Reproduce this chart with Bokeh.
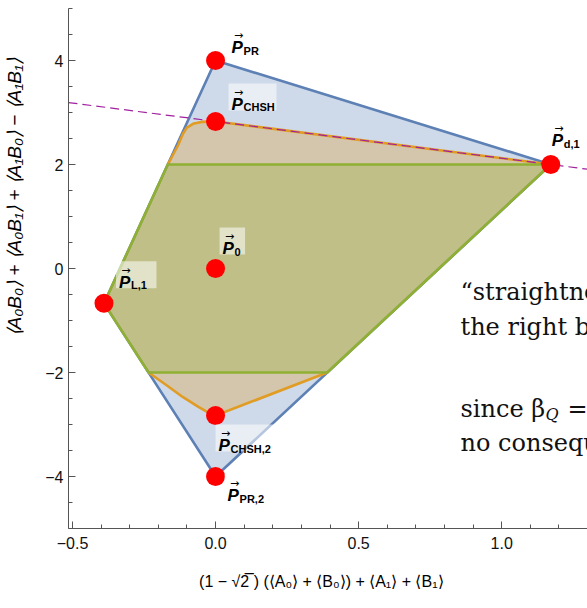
from bokeh.plotting import figure
from bokeh.models import Label, SingleIntervalTicker, CustomJSTickFormatter
from bokeh.core.properties import value
from bokeh.embed import file_html
from bokeh.resources import INLINE

# ---- data -------------------------------------------------------------
# no-signalling polytope slice (outer, blue)
ns_x = [0.0, 1.1716, 0.0, -0.39]
ns_y = [4.0, 2.0, -4.0, -0.67]

# local polytope slice (inner, green)
loc_x = [-0.167, 1.1716, 0.3905, -0.234, -0.39]
loc_y = [2.0, 2.0, -2.0, -2.0, -0.67]

# quantum set boundary: upper arc (left to right), lower arc (right to left)
qu_x = [-0.167, -0.131, -0.114, -0.100, -0.076, -0.047, -0.017, 0.0, 1.1716]
qu_y = [2.0, 2.37, 2.59, 2.71, 2.79, 2.82, 2.83, 2.828, 2.0]
ql_x = [0.3905, 0.0, -0.025, -0.060, -0.115, -0.170, -0.234]
ql_y = [-2.0, -2.828, -2.77, -2.66, -2.47, -2.25, -2.0]

# marked behaviours
pt_x = [0.0, 0.0, 1.1716, 0.0, -0.39, 0.0, 0.0]
pt_y = [4.0, 2.828, 2.0, 0.0, -0.67, -2.828, -4.0]
pt_sub = ["PR", "CHSH", "d,1", "0", "L,1", "CHSH,2", "PR,2"]

x_ticks = [-0.5, 0.0, 0.5, 1.0]
y_ticks = [-4, -2, 0, 2, 4]

x_title = ("(1 \u2212 \u221a2\u0305 ) (\u27e8A\u2080\u27e9 + \u27e8B\u2080\u27e9)"
           " + \u27e8A\u2081\u27e9 + \u27e8B\u2081\u27e9")
y_title = ("\u27e8A\u2080B\u2080\u27e9 + \u27e8A\u2080B\u2081\u27e9 + "
           "\u27e8A\u2081B\u2080\u27e9 \u2212 \u27e8A\u2081B\u2081\u27e9")

# ---- layout -----------------------------------------------------------
W, H = 587, 608
B_LEFT, B_RIGHT, B_TOP, B_BOTTOM = 68, 0, 8, 80
X0, X1 = -0.514, 1.30
Y0, Y1 = -5.0, 5.0
px_x = (W - B_LEFT - B_RIGHT) / (X1 - X0)
px_y = (H - B_TOP - B_BOTTOM) / (Y1 - Y0)

# label placement relative to each point (screen px, y downwards)
lab_dx = [16, 16, 1, 7, 15, 3, 12]
lab_dy = [-13, -17, -24, -20, -21, 30, 19]

BLUE, ORANGE, GREEN = "#5E81B5", "#E19C24", "#8FB032"
FONT = "Liberation Sans"
NBSP = "\u00a0"

p = figure(width=W, height=H, x_range=(X0, X1), y_range=(Y0, Y1),
           output_backend="svg", toolbar_location=None,
           min_border_left=B_LEFT, min_border_right=B_RIGHT,
           min_border_top=B_TOP, min_border_bottom=B_BOTTOM)
p.outline_line_color = None
p.xgrid.visible = False
p.ygrid.visible = False

# regions
p.patch(ns_x, ns_y, fill_color=BLUE, fill_alpha=0.3,
        line_color=BLUE, line_width=2.6, line_join="round")
q_x = qu_x + ql_x + [pt_x[4]]
q_y = qu_y + ql_y + [pt_y[4]]
p.patch(q_x, q_y, fill_color=ORANGE, fill_alpha=0.3, line_color=None)
p.line(qu_x, qu_y, line_color=ORANGE, line_width=2.6, line_join="round")
p.line(ql_x, ql_y, line_color=ORANGE, line_width=2.6, line_join="round")
p.patch(loc_x, loc_y, fill_color=GREEN, fill_alpha=0.3,
        line_color=GREEN, line_width=2.6, line_join="round")

# tangent through the CHSH point and the deterministic point
slope = (pt_y[2] - pt_y[1]) / (pt_x[2] - pt_x[1])
tx = [X0, X1]
ty = [pt_y[1] + slope * (t - pt_x[1]) for t in tx]
p.line(tx, ty, line_color="#A0209F", line_width=1.2, line_dash="9 5")

# points
p.scatter(pt_x, pt_y, size=19, fill_color="#FF0000", line_color=None)

# label boxes
box_l, box_r, box_t, box_b = [], [], [], []
for x, y, dx, dy, s in zip(pt_x, pt_y, lab_dx, lab_dy, pt_sub):
    w = 13 + 7.5 * len(s)
    box_l.append(x + (dx - 3) / px_x)
    box_r.append(x + (dx + w + 2) / px_x)
    box_t.append(y - (dy - 21) / px_y)
    box_b.append(y - (dy + 6) / px_y)
p.quad(left=box_l, right=box_r, top=box_t, bottom=box_b,
       fill_color="white", fill_alpha=0.55, line_color=None)

p.text(x=pt_x, y=pt_y, text=["P"] * len(pt_x),
       x_offset=lab_dx, y_offset=lab_dy,
       text_font=value(FONT), text_font_style="bold italic",
       text_font_size="17px", text_color="black",
       text_align="left", text_baseline="alphabetic")
p.text(x=pt_x, y=pt_y, text=pt_sub,
       x_offset=[d + 12 for d in lab_dx], y_offset=[d + 3 for d in lab_dy],
       text_font=value(FONT), text_font_style="bold",
       text_font_size="11px", text_color="black",
       text_align="left", text_baseline="alphabetic")
p.text(x=pt_x, y=pt_y, text=["\u2192"] * len(pt_x),
       x_offset=[d + 7 for d in lab_dx], y_offset=[d - 12 for d in lab_dy],
       text_font=value("DejaVu Sans"), text_font_size="11px",
       text_color="black", text_align="center", text_baseline="alphabetic")

# axes
AX = "#555555"
for ax, interval, minor, digits in ((p.xaxis, 0.5, 5, 1), (p.yaxis, 2, 4, 0)):
    ax.ticker = SingleIntervalTicker(interval=interval, num_minor_ticks=minor)
    ax.formatter = CustomJSTickFormatter(
        code="return (tick < 0 ? '\\u2212' : '') + Math.abs(tick).toFixed(%d)" % digits)
    ax.axis_line_color = AX
    ax.axis_line_width = 1
    ax.major_tick_line_color = AX
    ax.minor_tick_line_color = AX
    ax.major_tick_in = 7
    ax.major_tick_out = 0
    ax.minor_tick_in = 4
    ax.minor_tick_out = 0
    ax.major_label_text_font = FONT
    ax.major_label_text_font_size = "16px"
    ax.major_label_text_color = "#111111"
    ax.axis_label_text_font = FONT
    ax.axis_label_text_color = "black"
p.xaxis.major_label_standoff = 8
p.yaxis.major_label_standoff = 5
p.xaxis.axis_label = x_title + NBSP * 3
p.xaxis.axis_label_text_font_size = "16px"
p.xaxis.axis_label_text_font_style = "normal"
p.xaxis.axis_label_standoff = 21
p.yaxis.axis_label = NBSP * 27 + y_title
p.yaxis.axis_label_text_font_size = "19px"
p.yaxis.axis_label_text_font_style = "italic"
p.yaxis.axis_label_standoff = 17

# side notes
SERIF = "DejaVu Serif"
notes = [("\u201cstraightness\u201d of", 392, 237),
         ("the right boundary", 392, 202),
         ("since \u03b2", 392, 120),
         ("no consequence", 392, 86)]
for t, x, y in notes:
    p.add_layout(Label(x=x, y=y, x_units="screen", y_units="screen", text=t,
                       text_font=SERIF, text_font_size="24px", text_color="#111111",
                       text_align="left", text_baseline="alphabetic"))
p.add_layout(Label(x=477, y=114, x_units="screen", y_units="screen", text="Q",
                   text_font=SERIF, text_font_size="16px", text_font_style="italic",
                   text_color="#111111", text_align="left", text_baseline="alphabetic"))
p.add_layout(Label(x=499, y=120, x_units="screen", y_units="screen", text="=",
                   text_font=SERIF, text_font_size="24px", text_color="#111111",
                   text_align="left", text_baseline="alphabetic"))

open("out.html", "w").write(file_html(p, INLINE))
